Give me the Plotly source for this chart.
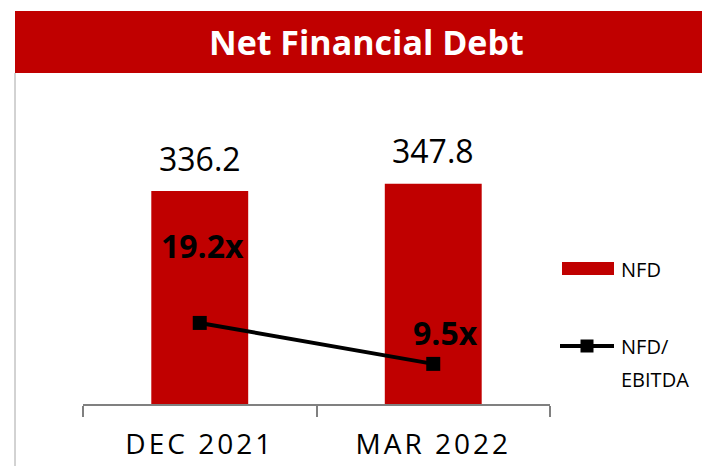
import plotly.graph_objects as go

categories = ["DEC 2021", "MAR 2022"]
nfd_values = [336.2, 347.8]
ratio_values = [19.2, 9.5]
ratio_labels = ["19.2x", "9.5x"]
series_names = ["NFD", "NFD/", "EBITDA"]
title_text = "Net Financial Debt"

RED = "#C00000"
FONT = "Open Sans"

OFF = 8  # page body margin
W, H = 710 - OFF, 466 - OFF
L, R, T = 83 - OFF, 710 - 550, 100 - OFF
B = H - (404 - OFF)
pw, ph = W - L - R, H - T - B


def px_x(x):
    return (x - OFF - L) / pw


def px_y(y):
    return (H - B - (y - OFF)) / ph


fig = go.Figure()
fig.add_trace(go.Bar(
    x=categories, y=nfd_values, name=series_names[0],
    marker=dict(color=RED, line=dict(width=0)),
    hoverinfo="skip", showlegend=False,
))
fig.add_trace(go.Scatter(
    x=categories, y=ratio_values, name=series_names[1] + series_names[2], yaxis="y2",
    mode="lines+markers",
    line=dict(color="black", width=4),
    marker=dict(symbol="square", size=14, color="black"),
    hoverinfo="skip", showlegend=False,
))

annotations = []
for c, v in zip(categories, nfd_values):
    annotations.append(dict(x=c, y=v, xref="x", yref="y", text=f"{v:.1f}",
                            showarrow=False, yanchor="middle", yshift=33,
                            font=dict(family=FONT, size=32, color="black")))
shifts = [(3, 77), (12, 31)]
for c, v, t, (dx, dy) in zip(categories, ratio_values, ratio_labels, shifts):
    annotations.append(dict(x=c, y=v, xref="x", yref="y2", text=f"<b>{t}</b>",
                            showarrow=False, yanchor="middle", xshift=dx, yshift=dy,
                            font=dict(family=FONT, size=32, color="black")))
annotations.append(dict(x=px_x(366), y=px_y(42), xref="paper", yref="paper",
                        text=f"<b>{title_text}</b>", showarrow=False,
                        xanchor="center", yanchor="middle",
                        font=dict(family=FONT, size=34, color="white")))

# legend (drawn)
leg_font = dict(family=FONT, size=20, color="black")
annotations.append(dict(x=px_x(619), y=px_y(269), xref="paper", yref="paper",
                        text=series_names[0], showarrow=False,
                        xanchor="left", yanchor="middle", font=leg_font))
annotations.append(dict(x=px_x(619), y=px_y(346), xref="paper", yref="paper",
                        text=series_names[1], showarrow=False,
                        xanchor="left", yanchor="middle", font=leg_font))
annotations.append(dict(x=px_x(619), y=px_y(379), xref="paper", yref="paper",
                        text=series_names[2], showarrow=False,
                        xanchor="left", yanchor="middle", font=leg_font))

shapes = [
    dict(type="rect", xref="paper", yref="paper",
         x0=px_x(15), x1=px_x(720), y0=px_y(73), y1=px_y(11),
         fillcolor=RED, line=dict(width=0), layer="below"),
    dict(type="line", xref="paper", yref="paper",
         x0=px_x(15), x1=px_x(15), y0=px_y(73), y1=px_y(480),
         line=dict(color="#A6A6A6", width=1)),
    # legend swatches
    dict(type="rect", xref="paper", yref="paper",
         x0=px_x(562), x1=px_x(614), y0=px_y(275), y1=px_y(262),
         fillcolor=RED, line=dict(width=0)),
    dict(type="line", xref="paper", yref="paper",
         x0=px_x(560), x1=px_x(614), y0=px_y(346), y1=px_y(346),
         line=dict(color="black", width=4)),
    dict(type="rect", xref="paper", yref="paper",
         x0=px_x(580.5), x1=px_x(593.5), y0=px_y(352.5), y1=px_y(339.5),
         fillcolor="black", line=dict(width=0)),
]

ticktext = [f'<span style="letter-spacing:3px">{c}</span>' for c in categories]

fig.update_layout(
    width=W, height=H,
    margin=dict(l=L, r=R, t=T, b=B, pad=0, autoexpand=False),
    paper_bgcolor="white", plot_bgcolor="white",
    font=dict(family=FONT, color="black"),
    bargap=0.585,
    showlegend=False,
    xaxis=dict(type="category", range=[-0.5, 1.5], automargin=False,
               tickmode="array", tickvals=categories, ticktext=ticktext,
               tickson="boundaries", ticks="outside", ticklen=11,
               tickcolor="#808080", tickwidth=1.5,
               showline=True, linecolor="#808080", linewidth=1.5,
               showgrid=False, zeroline=False, ticklabelstandoff=15,
               tickfont=dict(family=FONT, size=28, color="black")),
    yaxis=dict(range=[0, 480], visible=False, showgrid=False, zeroline=False,
               automargin=False),
    yaxis2=dict(range=[0, 72], overlaying="y", visible=False,
                showgrid=False, zeroline=False, automargin=False),
    annotations=annotations,
    shapes=shapes,
)

fig.write_html("out.html")
